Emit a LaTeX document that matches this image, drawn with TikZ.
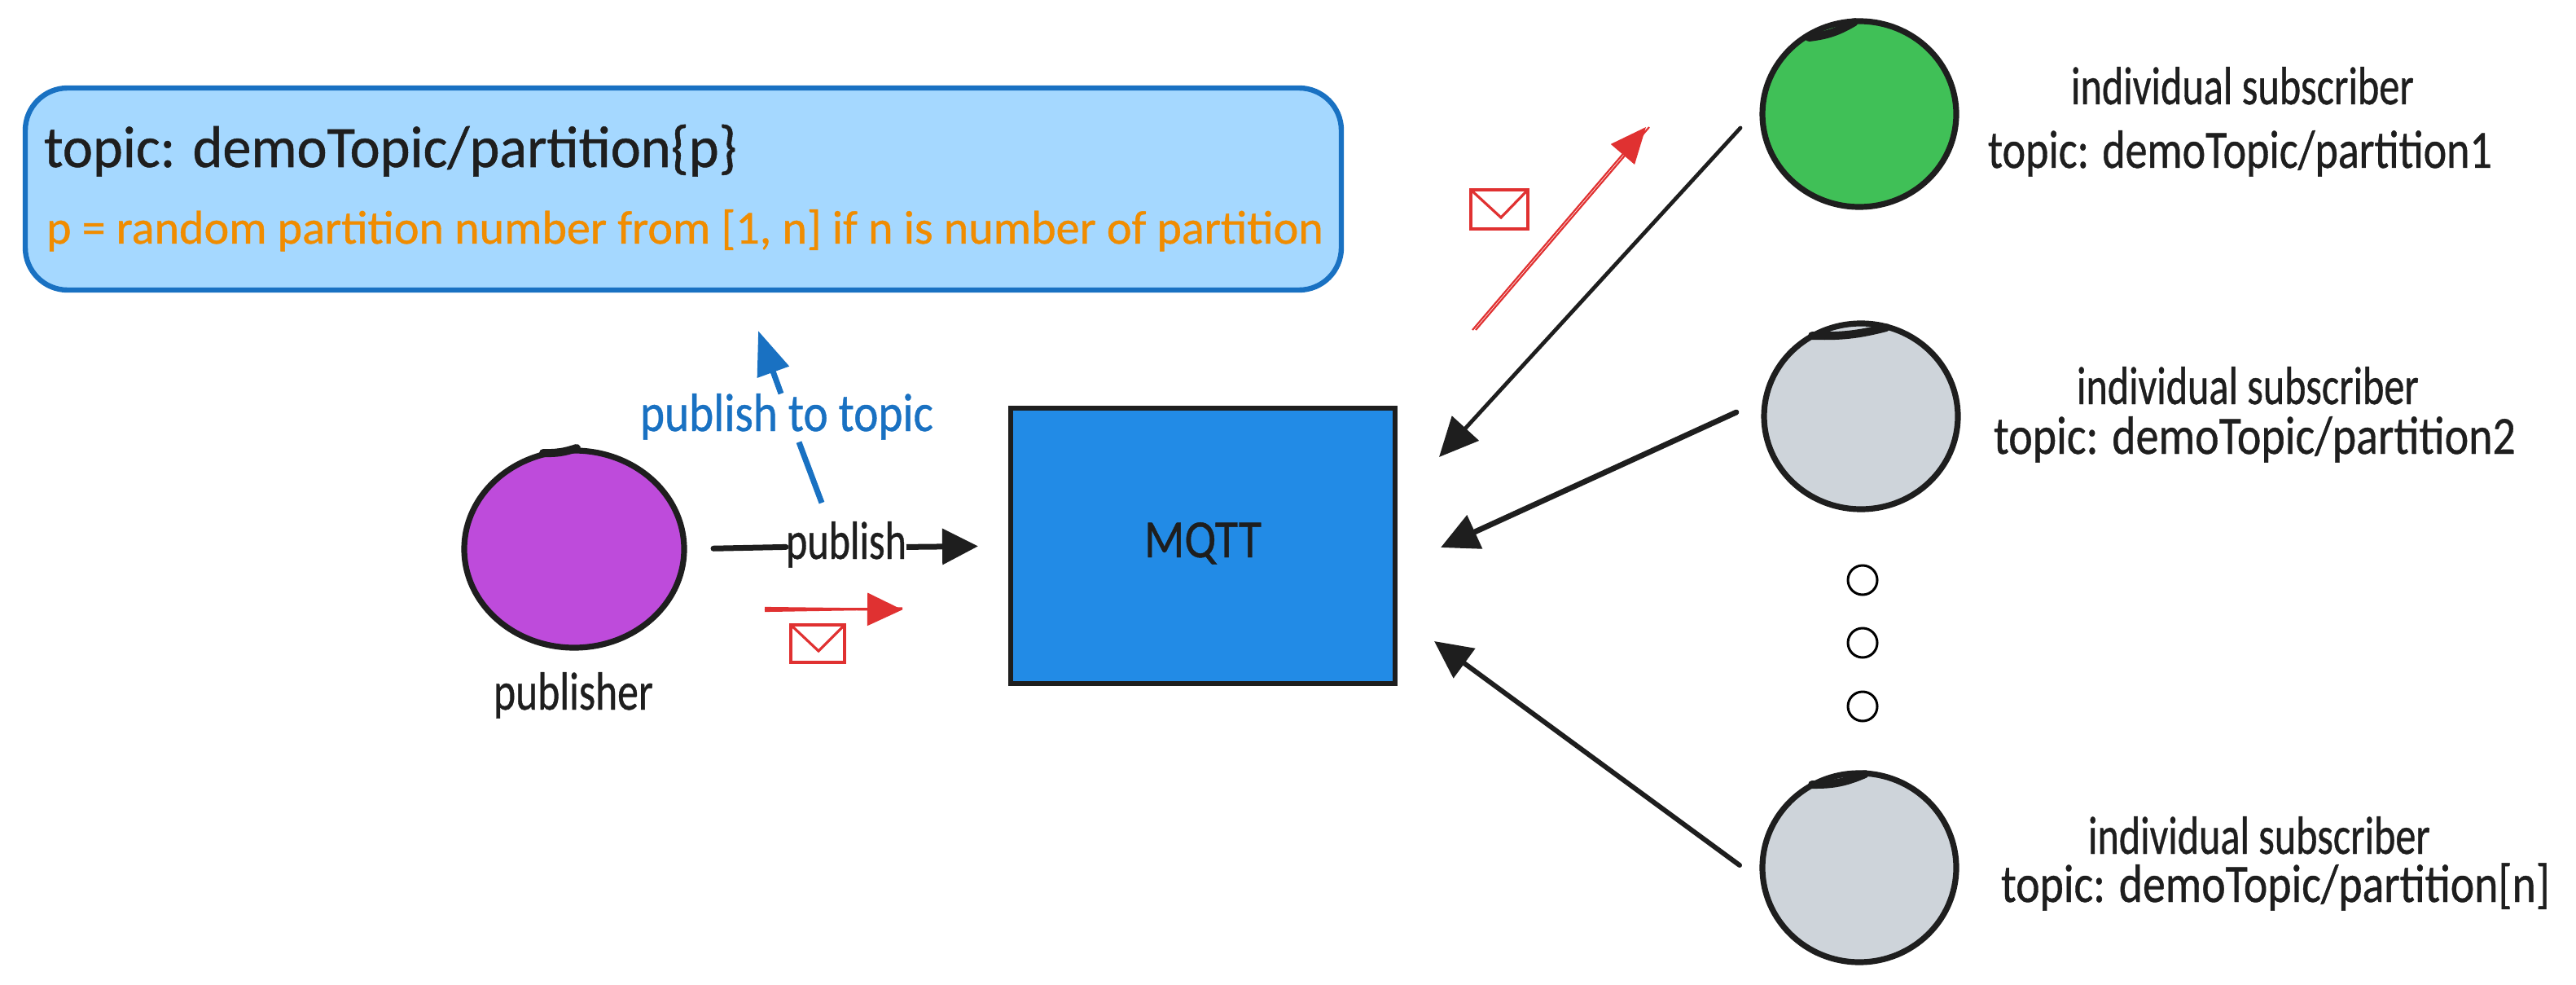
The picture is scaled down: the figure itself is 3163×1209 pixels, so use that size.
\documentclass[tikz,border=0pt]{standalone}
\usepackage{graphicx}
\usepackage{fontspec}
\setmainfont[FakeBold=0.7]{Carlito}
\usetikzlibrary{shapes.geometric,arrows.meta}
\definecolor{ink}{HTML}{1E1E1E}
\definecolor{bluedark}{HTML}{1971C2}
\definecolor{bluelight}{HTML}{A5D8FF}
\definecolor{bluemid}{HTML}{228BE6}
\definecolor{purp}{HTML}{BE4BDB}
\definecolor{grn}{HTML}{40C057}
\definecolor{gry}{HTML}{CED4DA}
\definecolor{redc}{HTML}{E03131}
\definecolor{orng}{HTML}{F08C00}
\newcommand\hw[2]{\resizebox{\dimexpr #1pt/2\relax}{\height}{#2}}
\tikzset{
  x=0.5pt,y=-0.5pt,
  lbl/.style={inner sep=0pt,outer sep=0pt,anchor=base west,text=ink,font=\fontsize{33}{33}\selectfont},
  person/.style={ellipse,draw=ink,line width=3.6pt,inner sep=0pt,outer sep=0pt},
  sub/.style={person,minimum width=119pt,minimum height=114pt},
  tail/.style={draw=ink,line width=5pt,line cap=round},
  dotc/.style={circle,draw=black,line width=1.5pt,fill=white,minimum size=18pt,inner sep=0pt,outer sep=0pt},
  env/.style={draw=redc,line width=1.6pt,rectangle,inner sep=0pt,outer sep=0pt,minimum width=33pt,minimum height=23pt},
  fl/.style={line width=3pt,draw=ink,line cap=round},
  blk/.style={fl,-{Triangle[length=23pt,width=22pt]}},
}
\begin{document}
\begin{tikzpicture}
\useasboundingbox (0,0) rectangle (3163,1209);
% topic box
\node[draw=bluedark,fill=bluelight,line width=3.2pt,rounded corners=26pt,inner sep=0pt,outer sep=0pt,minimum width=808pt,minimum height=124pt] (box) at (839,232) {};
\node[lbl,font=\fontsize{36}{36}\selectfont] (t1) at (54,205) {\hw{851}{topic: demoTopic/partition\{p\}}};
\node[lbl,text=orng,font=\fontsize{29}{29}\selectfont] (t2) at (57,299) {\hw{1568}{p = random partition number from [1, n] if n is number of partition}};
% publisher
\node[person,fill=purp,minimum width=135pt,minimum height=121pt] (pub) at (705,674) {};
\draw[tail] (667,556) to[bend right=10] (708,550);
\node[lbl] (pubt) at (606,871) {\hw{196}{publisher}};
% MQTT
\node[draw=ink,fill=bluemid,line width=3pt,inner sep=0pt,outer sep=0pt,minimum width=236pt,minimum height=169pt] (mqtt) at (1477,670) {};
\node[lbl] (mq) at (1405,684) {\hw{144}{MQTT}};
% publish arrow
\node[lbl] (pl) at (965,686) {\hw{148}{publish}};
\draw[line width=3.5pt,draw=ink,line cap=round,shorten <=18pt] (pub.east) -- ([yshift=-1.5pt]pl.west);
\draw[line width=3.5pt,draw=ink,-{Triangle[length=22pt,width=21.5pt]},shorten >=20pt] ([yshift=-1.5pt]pl.east) -- (mqtt.west);
% publish to topic
\node[lbl,text=bluedark] (tl) at (786,529) {\hw{360}{publish to topic}};
\coordinate (b0) at ([shift={(-30,-23)}]pl.north);
\coordinate (b1) at ([shift={(15,3)}]tl.south);
\coordinate (b2) at ([shift={(-7,0)}]tl.north);
\coordinate (b3) at ([shift={(92,50)}]box.south);
\draw[line width=3.5pt,draw=bluedark] (b0) -- (b1);
\draw[line width=3.5pt,draw=bluedark,-{Triangle[length=27pt,width=20pt]}] (b2) -- (b3);
% red arrow + envelope under publish
\node[env] (e1) at (1004,790) {};
\draw[draw=redc,line width=1.6pt] (e1.north west) -- (1005,799) -- (e1.north east);
\coordinate (r0a) at ([shift={(-65,-19)}]e1.north);
\coordinate (r1a) at ([shift={(104,-19)}]e1.north);
\draw[draw=redc,line width=1.5pt] ([yshift=-.8pt]r0a) -- ([yshift=.6pt]r1a);
\draw[draw=redc,line width=1.5pt,-{Triangle[length=21.5pt,width=20pt]}] ([yshift=.8pt]r0a) -- ([yshift=-.2pt]r1a);
% subscribers
\node[sub,fill=grn] (s1) at (2283,140) {};
\draw[tail] (2221,46) to[bend right=12] (2277,27);
\node[sub,fill=gry] (s2) at (2285,511) {};
\draw[tail] (2225,412) to[bend right=8] (2316,402);
\node[dotc] (d1) at (2287,712) {};
\node[dotc] (d2) at (2287,789) {};
\node[dotc] (d3) at (2287,867) {};
\node[sub,fill=gry,minimum height=116pt] (s3) at (2283,1065) {};
\draw[tail] (2225,963) to[bend right=12] (2290,950);
% subscriber labels
\node[lbl] (a1) at (2543,128) {\hw{421}{individual subscriber}};
\node[lbl] (b1t) at (2441,206) {\hw{619}{topic: demoTopic/partition1}};
\node[lbl] (a2) at (2550,496) {\hw{420}{individual subscriber}};
\node[lbl] (b2t) at (2448,557) {\hw{641}{topic: demoTopic/partition2}};
\node[lbl] (a3) at (2564,1048) {\hw{420}{individual subscriber}};
\node[lbl] (b3t) at (2457,1107) {\hw{674}{topic: demoTopic/partition[n]}};
% subscriber arrows
\coordinate (c1) at ([shift={(-27,17)}]s1.west);
\coordinate (m1) at ([shift={(54,-109)}]mqtt.east);
\draw[blk,line width=2.4pt,-{Triangle[length=24pt,width=22pt]}] (c1) -- (m1);
\coordinate (c2) at ([shift={(-34,-5)}]s2.west);
\coordinate (m2) at ([shift={(56,2)}]mqtt.east);
\draw[blk,line width=3.4pt] (c2) -- (m2);
\coordinate (c3) at ([shift={(-28,-3)}]s3.west);
\coordinate (m3) at ([shift={(48,117)}]mqtt.east);
\draw[blk] (c3) -- (m3);
% red diagonal arrow + envelope
\node[env,minimum width=35pt,minimum height=24pt] (e2) at (1841,257) {};
\draw[draw=redc,line width=1.6pt] (e2.north west) -- (1843,267) -- (e2.north east);
\coordinate (g0) at ([shift={(-33,124)}]e2.south);
\coordinate (g1) at ([shift={(180,-125)}]e2.south);
\draw[draw=redc,line width=1.1pt] ([xshift=2pt]g0) -- ([xshift=2pt]g1);
\draw[draw=redc,line width=1.1pt,-{Triangle[length=22pt,width=19pt]}] (g0) -- (g1);
\end{tikzpicture}
\end{document}
